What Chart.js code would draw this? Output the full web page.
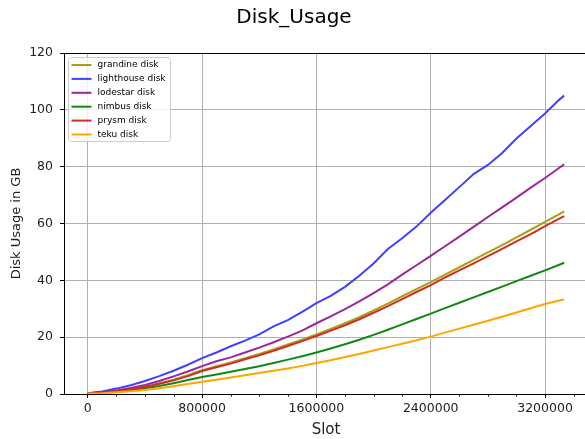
<!DOCTYPE html>
<html>
<head>
<meta charset="utf-8">
<title>Disk_Usage</title>
<script src="https://cdn.jsdelivr.net/npm/chart.js@4/dist/chart.umd.min.js"></script>
<style>
    html, body { margin: 0; padding: 0; background: #fff; overflow: hidden; }
    #chart-disk { display: block; }
</style>
</head>
<body>
<canvas id="chart-disk" width="596" height="439"></canvas>
<script>
// Slots (eje x)
const slots = [
    0, 100000, 200000, 300000, 400000, 500000, 600000, 700000, 800000, 900000,
    1000000, 1100000, 1200000, 1300000, 1400000, 1500000, 1600000, 1700000, 1800000, 1900000,
    2000000, 2100000, 2200000, 2300000, 2400000, 2500000, 2600000, 2700000, 2800000, 2900000,
    3000000, 3100000, 3200000, 3300000, 3334000
];

// Uso de disco en GB por cliente
const grandineDisk = [
    0.3, 0.5, 1.0, 1.7, 2.6, 3.7, 5.0, 6.6, 8.4, 9.8,
    11.1, 12.6, 14.1, 15.7, 17.4, 19.1, 21.0, 22.9, 24.9, 27.0,
    29.4, 31.8, 34.4, 36.9, 39.4, 42.0, 44.6, 47.2, 49.8, 52.4,
    55.1, 57.8, 60.6, 63.3, 64.3
];
const lighthouseDisk = [
    0.3, 0.9, 1.9, 3.1, 4.6, 6.3, 8.2, 10.3, 12.6, 14.6,
    16.8, 18.8, 21.0, 23.8, 26.0, 28.9, 32.0, 34.5, 37.7, 41.6,
    45.9, 51.0, 54.8, 58.9, 63.8, 68.3, 72.8, 77.4, 80.6, 84.8,
    89.9, 94.3, 98.7, 103.6, 105.0
];
const lodestarDisk = [
    0.3, 0.6, 1.2, 2.1, 3.2, 4.6, 6.2, 7.9, 9.8, 11.5,
    12.9, 14.6, 16.3, 18.2, 20.2, 22.3, 24.9, 27.3, 29.9, 32.6,
    35.5, 38.6, 42.0, 45.3, 48.6, 52.0, 55.4, 58.8, 62.3, 65.7,
    69.1, 72.6, 76.0, 79.6, 80.8
];
const nimbusDisk = [
    0.2, 0.4, 0.8, 1.3, 2.0, 2.8, 3.8, 4.9, 6.0, 6.9,
    7.8, 8.8, 9.8, 10.9, 12.1, 13.3, 14.6, 16.0, 17.5, 19.1,
    20.8, 22.6, 24.5, 26.4, 28.3, 30.2, 32.1, 34.0, 35.9, 37.8,
    39.7, 41.6, 43.5, 45.5, 46.2
];
const prysmDisk = [
    0.3, 0.5, 1.0, 1.6, 2.5, 3.6, 4.8, 6.3, 8.1, 9.4,
    10.7, 12.2, 13.6, 15.2, 16.9, 18.6, 20.4, 22.3, 24.2, 26.3,
    28.6, 30.9, 33.4, 35.9, 38.3, 41.0, 43.5, 46.0, 48.5, 51.1,
    53.7, 56.3, 59.1, 61.7, 62.6
];
const tekuDisk = [
    0.2, 0.3, 0.6, 1.0, 1.4, 2.0, 2.7, 3.5, 4.3, 5.0,
    5.8, 6.6, 7.4, 8.2, 9.0, 9.9, 10.9, 11.9, 13.0, 14.1,
    15.3, 16.5, 17.7, 18.9, 20.2, 21.6, 23.0, 24.4, 25.8, 27.2,
    28.7, 30.2, 31.7, 32.9, 33.3
];

const seriesNames = ['grandine disk', 'lighthouse disk', 'lodestar disk', 'nimbus disk', 'prysm disk', 'teku disk'];
const seriesValues = [grandineDisk, lighthouseDisk, lodestarDisk, nimbusDisk, prysmDisk, tekuDisk];
const seriesColors = ['#a3a314', '#4040ff', '#9b279b', '#118811', '#d62a22', '#ffa500'];

// Ticks del eje y y del eje x
const yTicks = [0, 20, 40, 60, 80, 100, 120];
const xMajorStep = 800000;
const xMinorStep = 200000;

const FONT = "'DejaVu Sans', 'Liberation Sans', sans-serif";

// Margen del 5% como matplotlib
const xSpan = slots[slots.length - 1] - slots[0];
const xMin = slots[0] - xSpan * 0.05;
const xMax = slots[slots.length - 1] + xSpan * 0.05;

const isMajor = v => v % xMajorStep === 0;

// Leyenda dentro del área, borde superior y ticks menores del eje x
const legendInside = {
    id: 'legendInside',
    afterDraw(chart) {
        const ctx = chart.ctx;
        const area = chart.chartArea;
        const xScale = chart.scales.x;
        ctx.save();
        // borde superior (spine)
        ctx.strokeStyle = '#000';
        ctx.lineWidth = 1;
        ctx.beginPath();
        ctx.moveTo(area.left, area.top + 0.5);
        ctx.lineTo(area.right, area.top + 0.5);
        ctx.stroke();

        // ticks menores, más cortos
        ctx.beginPath();
        xScale.ticks.forEach(t => {
            if (isMajor(t.value)) return;
            const px = Math.round(xScale.getPixelForValue(t.value)) + 0.5;
            ctx.moveTo(px, area.bottom);
            ctx.lineTo(px, area.bottom + 2.5);
        });
        ctx.stroke();

        const x0 = area.left + 4.5, y0 = area.top + 4.5, w = 102, h = 84, r = 3;
        ctx.fillStyle = 'rgba(255,255,255,0.8)';
        ctx.strokeStyle = '#cccccc';
        ctx.beginPath();
        ctx.moveTo(x0 + r, y0);
        ctx.arcTo(x0 + w, y0, x0 + w, y0 + h, r);
        ctx.arcTo(x0 + w, y0 + h, x0, y0 + h, r);
        ctx.arcTo(x0, y0 + h, x0, y0, r);
        ctx.arcTo(x0, y0, x0 + w, y0, r);
        ctx.closePath();
        ctx.fill();
        ctx.stroke();

        ctx.font = '9px ' + FONT;
        ctx.textBaseline = 'middle';
        ctx.textAlign = 'left';
        chart.data.datasets.forEach((ds, i) => {
            const y = area.top + 12 + i * 13.9;
            ctx.strokeStyle = ds.borderColor;
            ctx.lineWidth = 2;
            ctx.beginPath();
            ctx.moveTo(x0 + 3, y);
            ctx.lineTo(x0 + 23, y);
            ctx.stroke();
            ctx.fillStyle = '#000';
            ctx.fillText(ds.label, x0 + 29, y);
        });
        ctx.restore();
    }
};

document.addEventListener('DOMContentLoaded', function() {
    const ctx = document.getElementById('chart-disk').getContext('2d');

    const datasets = seriesNames.map((name, i) => ({
        label: name,
        data: slots.map((s, j) => ({ x: s, y: seriesValues[i][j] })),
        borderColor: seriesColors[i],
        backgroundColor: seriesColors[i],
        borderWidth: 2,
        pointRadius: 0,
        tension: 0,
        fill: false,
        order: -i
    }));

    new Chart(ctx, {
        type: 'line',
        data: { datasets: datasets },
        options: {
            responsive: false,
            animation: false,
            devicePixelRatio: 1,
            layout: {
                padding: { left: 0, right: 8, top: 0, bottom: 0 }
            },
            plugins: {
                legend: { display: false },
                tooltip: { enabled: false },
                title: {
                    display: true,
                    text: 'Disk_Usage',
                    color: '#000',
                    font: { family: FONT, size: 20, weight: 'normal' },
                    padding: { top: 6, bottom: 23 }
                }
            },
            scales: {
                x: {
                    type: 'linear',
                    min: xMin,
                    max: xMax,
                    afterBuildTicks: scale => {
                        const ticks = [];
                        for (let v = Math.ceil(xMin / xMinorStep) * xMinorStep; v <= xMax; v += xMinorStep) {
                            ticks.push({ value: v });
                        }
                        scale.ticks = ticks;
                    },
                    afterFit: scale => { scale.height = 45; },
                    grid: {
                        drawOnChartArea: true,
                        drawTicks: true,
                        tickLength: 4,
                        tickColor: c => (c.tick && isMajor(c.tick.value)) ? '#000' : 'rgba(0,0,0,0)',
                        lineWidth: 1,
                        color: c => (c.tick && isMajor(c.tick.value)) ? '#b0b0b0' : 'rgba(0,0,0,0)'
                    },
                    border: { display: true, color: '#000', width: 1 },
                    ticks: {
                        autoSkip: false,
                        maxRotation: 0,
                        padding: 3,
                        color: '#222',
                        font: { family: FONT, size: 12.5 },
                        callback: v => isMajor(v) ? String(v) : ''
                    },
                    title: {
                        display: true,
                        text: 'Slot',
                        color: '#222',
                        font: { family: FONT, size: 15 },
                        padding: { top: 0, bottom: 0 }
                    }
                },
                y: {
                    min: yTicks[0],
                    max: yTicks[yTicks.length - 1],
                    afterBuildTicks: scale => {
                        scale.ticks = yTicks.map(v => ({ value: v }));
                    },
                    afterFit: scale => { scale.width = 64; },
                    grid: {
                        drawTicks: true,
                        tickLength: 4,
                        tickColor: '#000',
                        color: '#b0b0b0',
                        lineWidth: 1
                    },
                    border: { display: true, color: '#000', width: 1 },
                    ticks: {
                        padding: 7,
                        color: '#222',
                        font: { family: FONT, size: 12.5 }
                    },
                    title: {
                        display: true,
                        text: 'Disk Usage in GB',
                        color: '#222',
                        font: { family: FONT, size: 13 },
                        padding: { top: 9, bottom: 0 }
                    }
                }
            }
        },
        plugins: [legendInside]
    });
});
</script>
</body>
</html>
